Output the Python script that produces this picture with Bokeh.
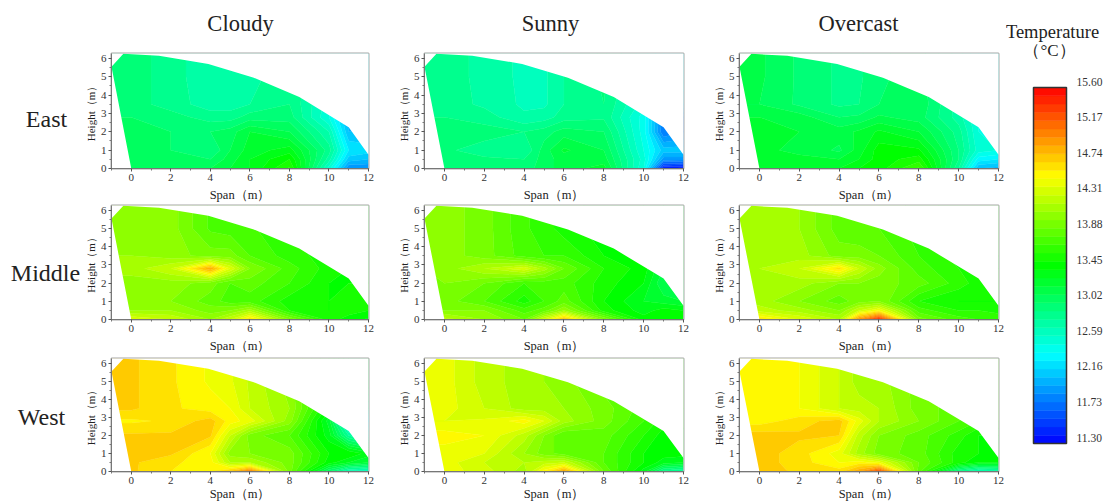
from bokeh.plotting import figure
from bokeh.layouts import row, column
from bokeh.models import FixedTicker, Range1d
from bokeh.core.properties import value
from bokeh.embed import file_html
from bokeh.resources import INLINE
import numpy as np

span_x = [-1, 0, 2, 4, 5, 6, 8, 10, 11, 12]
height_y = [0, 0.5, 1, 2, 2.8, 3.5, 5, 6.26]
roof_x = [0, -1, -0.4, 1.4, 3.9, 6.2, 8.5, 11, 12, 12]
roof_y = [0, 5.55, 6.25, 6.15, 5.7, 4.95, 3.9, 2.25, 0.75, 0]
scale_ticks = [11.30, 11.73, 12.16, 12.59, 13.02, 13.45, 13.88, 14.31, 14.74, 15.17, 15.60]
sections = ["Cloudy", "Sunny", "Overcast"]
rows_names = ["East", "Middle", "West"]

east_cloudy = [
    [13.10,13.10,13.10,13.10,13.20,13.30,13.62,12.55,11.90,11.90],
    [13.10,13.10,13.05,13.00,13.15,13.30,13.50,12.75,12.15,12.10],
    [13.05,13.05,13.00,12.90,13.10,13.25,13.35,12.85,12.30,12.25],
    [13.05,13.05,13.00,13.00,13.05,13.20,13.10,12.70,12.10,12.10],
    [13.00,13.00,12.95,12.85,12.85,12.95,12.95,12.50,12.05,12.05],
    [12.95,12.95,12.85,12.75,12.75,12.80,12.90,12.55,12.30,12.30],
    [12.95,12.95,12.85,12.72,12.72,12.75,12.90,12.60,12.40,12.40],
    [12.95,12.95,12.85,12.72,12.72,12.75,12.90,12.60,12.40,12.40],
]
east_sunny = [
    [12.95,12.95,12.95,12.95,13.05,13.15,13.25,12.50,11.40,11.35],
    [12.95,12.95,12.92,12.90,13.05,13.15,13.15,12.55,11.95,11.95],
    [12.92,12.92,12.85,12.80,13.05,13.22,13.10,12.50,12.15,12.15],
    [12.97,12.97,12.95,12.90,12.95,13.05,13.00,12.45,11.80,11.90],
    [12.90,12.90,12.85,12.72,12.75,12.85,12.88,12.45,11.85,11.90],
    [12.85,12.85,12.78,12.68,12.68,12.80,12.90,12.55,12.20,12.20],
    [12.88,12.88,12.75,12.68,12.68,12.80,12.92,12.65,12.40,12.40],
    [12.88,12.88,12.75,12.68,12.68,12.80,12.92,12.65,12.40,12.40],
]
east_overcast = [
    [13.30,13.30,13.30,13.30,13.40,13.45,13.72,12.80,12.10,12.05],
    [13.25,13.25,13.22,13.20,13.30,13.45,13.55,12.90,12.35,12.30],
    [13.22,13.22,13.18,13.08,13.25,13.45,13.42,12.90,12.55,12.50],
    [13.27,13.27,13.20,13.15,13.22,13.32,13.20,12.85,12.50,12.50],
    [13.20,13.20,13.15,13.00,13.02,13.12,13.05,12.75,12.50,12.50],
    [13.10,13.10,12.98,12.88,12.90,13.00,13.08,12.75,12.50,12.50],
    [13.12,13.12,12.98,12.88,12.88,12.98,13.05,12.75,12.50,12.50],
    [13.12,13.12,12.98,12.88,12.88,12.98,13.05,12.75,12.50,12.50],
]
middle_cloudy = [
    [14.40,14.40,14.30,14.10,14.30,14.65,14.00,13.55,13.45,13.38],
    [14.10,14.10,14.10,13.95,14.00,14.15,13.60,13.50,13.55,13.50],
    [14.05,14.05,14.00,13.85,13.75,13.75,13.55,13.50,13.55,13.55],
    [14.05,14.05,14.05,13.95,13.80,13.85,13.70,13.50,13.50,13.50],
    [14.15,14.15,14.30,14.90,14.40,14.00,13.75,13.55,13.50,13.50],
    [14.10,14.10,14.05,13.95,13.95,13.80,13.65,13.55,13.50,13.50],
    [14.10,14.10,14.05,13.78,13.75,13.72,13.60,13.50,13.50,13.50],
    [14.10,14.10,14.05,13.78,13.75,13.72,13.60,13.50,13.50,13.50],
]
middle_sunny = [
    [14.25,14.25,14.10,13.90,14.35,14.80,14.00,13.45,13.50,13.45],
    [14.00,14.00,14.00,13.75,13.85,14.10,13.55,13.35,13.45,13.40],
    [13.95,13.95,13.80,13.55,13.70,13.85,13.50,13.30,13.25,13.20],
    [14.00,14.00,13.90,13.70,13.75,13.75,13.55,13.40,13.10,13.15],
    [14.00,14.05,14.20,14.38,14.15,13.90,13.60,13.45,13.20,13.20],
    [14.05,14.05,13.95,13.75,13.70,13.70,13.50,13.40,13.30,13.30],
    [14.05,14.05,13.95,13.72,13.65,13.55,13.45,13.40,13.30,13.30],
    [14.05,14.05,13.95,13.72,13.65,13.55,13.45,13.40,13.30,13.30],
]
middle_overcast = [
    [14.65,14.65,14.40,14.20,15.00,15.45,13.95,13.75,13.70,13.70],
    [14.25,14.25,14.15,14.00,14.30,14.50,13.75,13.60,13.60,13.55],
    [14.15,14.15,14.00,13.85,13.95,14.00,13.60,13.50,13.50,13.50],
    [14.15,14.15,14.15,14.00,14.00,13.95,13.85,13.65,13.55,13.55],
    [14.20,14.20,14.30,14.65,14.30,14.05,13.75,13.60,13.50,13.50],
    [14.20,14.20,14.15,13.95,13.95,13.90,13.70,13.55,13.50,13.50],
    [14.20,14.20,14.10,13.85,13.82,13.80,13.65,13.55,13.55,13.55],
    [14.20,14.20,14.10,13.85,13.82,13.80,13.65,13.55,13.55,13.55],
]
west_cloudy = [
    [14.72,14.72,14.60,14.60,14.75,15.10,13.95,13.00,12.65,12.60],
    [14.72,14.72,14.62,14.55,14.20,14.20,13.95,13.45,13.30,13.20],
    [14.72,14.72,14.72,14.50,14.05,14.00,13.95,13.50,13.50,13.35],
    [14.72,14.72,14.72,14.72,14.30,13.95,13.80,13.35,12.80,12.60],
    [14.58,14.58,14.62,14.75,14.55,14.45,14.05,13.25,12.30,12.30],
    [14.72,14.72,14.62,14.55,14.50,14.30,14.10,13.45,12.80,12.80],
    [14.72,14.72,14.62,14.48,14.42,14.28,14.05,13.60,13.20,13.20],
    [14.72,14.72,14.62,14.48,14.42,14.28,14.05,13.60,13.20,13.20],
]
west_sunny = [
    [14.45,14.45,14.35,14.15,14.55,14.92,13.90,13.35,12.85,12.75],
    [14.45,14.45,14.30,14.20,14.25,14.30,13.80,13.50,13.35,13.30],
    [14.45,14.45,14.40,14.10,13.95,13.85,13.80,13.50,13.45,13.45],
    [14.55,14.55,14.50,14.25,14.00,13.80,13.85,13.60,13.45,13.45],
    [14.40,14.40,14.42,14.55,14.40,14.15,13.95,13.70,13.55,13.55],
    [14.45,14.45,14.30,14.15,14.15,14.10,13.95,13.75,13.60,13.60],
    [14.45,14.45,14.25,14.15,14.10,14.05,13.85,13.75,13.65,13.65],
    [14.45,14.45,14.25,14.15,14.10,14.05,13.85,13.75,13.65,13.65],
]
west_overcast = [
    [14.75,14.75,14.68,14.65,14.90,15.30,13.85,12.85,12.65,12.70],
    [14.75,14.75,14.65,14.50,14.55,14.45,13.90,13.55,13.40,13.40],
    [14.75,14.75,14.65,14.45,14.15,13.95,13.85,13.55,13.50,13.45],
    [14.75,14.75,14.72,14.70,14.25,14.00,13.85,13.65,13.50,13.50],
    [14.55,14.55,14.65,14.75,14.45,14.20,14.00,13.80,13.70,13.70],
    [14.55,14.55,14.50,14.30,14.25,14.20,13.95,13.85,13.75,13.75],
    [14.55,14.55,14.50,14.30,14.15,14.15,13.95,13.85,13.80,13.80],
    [14.55,14.55,14.50,14.30,14.15,14.15,13.95,13.85,13.80,13.80],
]
panels = [
    [east_cloudy, east_sunny, east_overcast],
    [middle_cloudy, middle_sunny, middle_overcast],
    [west_cloudy, west_sunny, west_overcast],
]

T_MIN, T_MAX, N_BANDS = 11.30, 15.60, 43
levels = list(np.linspace(T_MIN, T_MAX, N_BANDS + 1))


def rainbow(v):
    t = (v - T_MIN) / (T_MAX - T_MIN) * 4
    k = min(int(t), 3)
    f = t - k
    a = int(round(255 * f))
    b = 255 - a
    return "#%02x%02x%02x" % [(0, a, 255), (0, 255, b), (a, 255, 0), (255, b, 0)][k]


band_colors = [rainbow((levels[i] + levels[i + 1]) / 2) for i in range(N_BANDS)]
line_colors = [rainbow(v) for v in levels]

SERIF = "Liberation Serif"
TXT = "#222222"
PAGE_H = 503
LEFT_W = 81
STRIP_H = 52
FRAME_W = 259
col_left = [28, 46, 46]
col_right = [10, 10, 7]
col_width = [l + FRAME_W + r for l, r in zip(col_left, col_right)]
row_top = [1, 1, 3]
row_frame = [115, 114, 114]
row_bottom = [36, 36, 31]
row_height = [t + f + b for t, f, b in zip(row_top, row_frame, row_bottom)]
row_label_standoff = [4, 4, 0]
title_cx = [240, 550, 858]
rowlabel_cx = [46, 45, 41]
rowlabel_cy = [118, 272, 416]
SCALE_X0 = LEFT_W + sum(col_width)


def blank(w, h, x0=0, y0=0):
    """A figure that is nothing but a frame, whose ranges are page pixels."""
    p = figure(width=w, height=h, x_range=Range1d(x0, x0 + w), y_range=Range1d(y0 + h, y0),
               toolbar_location=None, output_backend="svg", min_border=0,
               x_axis_type=None, y_axis_type=None, outline_line_color=None,
               border_fill_color="white", background_fill_color="white")
    p.grid.visible = False
    return p


def left_labels():
    p = blank(LEFT_W, PAGE_H)
    p.text(x=rowlabel_cx, y=rowlabel_cy, text=rows_names, text_font=value(SERIF), text_font_size="24px",
           text_color=TXT, text_align="center", text_baseline="middle")
    return p


def top_titles():
    w = sum(col_width)
    p = blank(w, STRIP_H, x0=LEFT_W)
    p.text(x=title_cx, y=[23] * 3, text=sections, text_font=value(SERIF), text_font_size="22.5px",
           text_color=TXT, text_align="center", text_baseline="middle")
    return p


def panel(r, c):
    p = figure(width=col_width[c], height=row_height[r], x_range=Range1d(-1, 12), y_range=Range1d(0, 6.27),
               toolbar_location=None, output_backend="svg",
               min_border_left=col_left[c], min_border_right=col_right[c],
               min_border_top=row_top[r], min_border_bottom=row_bottom[r],
               border_fill_color="white", background_fill_color="white")
    p.grid.visible = False
    p.outline_line_color = "#a6a6a6"
    p.outline_line_width = 2
    p.contour(span_x, height_y, np.array(panels[r][c]), levels, fill_color=band_colors, line_color=line_colors, line_width=0.6)
    p.patch(roof_x + [13, 13, -2, -2], roof_y + [0, 7, 7, 0], fill_color="white", line_color=None)
    xa, ya = p.xaxis[0], p.yaxis[0]
    xa.ticker = FixedTicker(ticks=[0, 2, 4, 6, 8, 10, 12], minor_ticks=[-1, 1, 3, 5, 7, 9, 11])
    ya.ticker = FixedTicker(ticks=[0, 1, 2, 3, 4, 5, 6], minor_ticks=[0.5, 1.5, 2.5, 3.5, 4.5, 5.5])
    xa.axis_label = "Span（m）"
    ya.axis_label = "Height（m）"
    xa.axis_label_standoff = row_label_standoff[r]
    ya.axis_label_standoff = 1
    xa.axis_label_text_font_size = "12.5px"
    ya.axis_label_text_font_size = "11px"
    xa.axis_label_text_line_height = 1.0
    for a in (xa, ya):
        a.axis_label_text_font = SERIF
        a.axis_label_text_font_style = "normal"
        a.axis_label_text_color = TXT
        a.major_label_text_font = SERIF
        a.major_label_text_font_size = "11px"
        a.major_label_text_color = "#333333"
        a.axis_line_color = "#777777"
        a.major_tick_line_color = "#555555"
        a.minor_tick_line_color = "#777777"
        a.major_tick_in = 0
        a.minor_tick_in = 0
        a.major_tick_out = 3
        a.minor_tick_out = 2
        a.major_label_standoff = 2
    return p


def scale_panel():
    px_per = 356 / (T_MAX - T_MIN)
    y_at = lambda py: T_MAX + (87 - py) / px_per
    x_at = lambda px: (px - 1033) / 33
    p = figure(width=1103 - SCALE_X0, height=PAGE_H, x_range=Range1d(x_at(SCALE_X0), x_at(1103)),
               y_range=Range1d(y_at(PAGE_H), y_at(0)),
               toolbar_location=None, output_backend="svg", min_border=0,
               x_axis_type=None, y_axis_type=None, outline_line_color=None,
               border_fill_color="white", background_fill_color="white")
    p.grid.visible = False
    p.quad(left=0, right=1, bottom=levels[:-1], top=levels[1:], fill_color=band_colors, line_color=band_colors, line_width=0.5)
    p.quad(left=[0], right=[1], bottom=[T_MIN], top=[T_MAX], fill_color=None, line_color="#333333", line_width=1.5)
    p.text(x=[1] * len(scale_ticks), y=scale_ticks, text=["%.2f" % v for v in scale_ticks], x_offset=10, y_offset=-6,
           text_font=value(SERIF), text_font_size="11.5px", text_color="#333333", text_baseline="middle")
    p.text(x=[x_at(1052)], y=[y_at(31)], text=["Temperature"], text_font=value(SERIF), text_font_size="18.5px",
           text_color=TXT, text_align="center", text_baseline="middle")
    p.text(x=[x_at(1049)], y=[y_at(50)], text=["（°C）"], text_font=value(SERIF), text_font_size="17px",
           text_color=TXT, text_align="center", text_baseline="middle")
    return p


grid = column(top_titles(), *[row(*[panel(r, c) for c in range(3)]) for r in range(3)])
page = row(left_labels(), grid, scale_panel())
open("out.html", "w").write(file_html(page, INLINE))
